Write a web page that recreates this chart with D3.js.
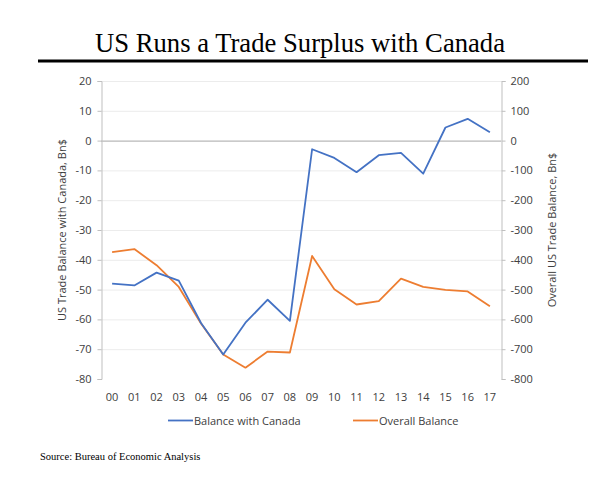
<!DOCTYPE html>
<html><head><meta charset="utf-8">
<script src="https://cdn.jsdelivr.net/npm/d3@7"></script>
<style>body{margin:0;background:#fff}svg{display:block}</style>
</head><body>
<svg id="c" width="606" height="481"></svg>
<script>
const years = ["00","01","02","03","04","05","06","07","08","09","10","11","12","13","14","15","16","17"];
const canada = [-48.0,-48.6,-44.3,-47.0,-61.2,-71.8,-61.1,-53.4,-60.5,-2.9,-5.8,-10.6,-4.9,-4.1,-11.1,4.4,7.3,2.8];
const overall = [-374,-364,-418,-491,-614,-718,-762,-708,-711,-387,-499,-550,-539,-463,-491,-501,-506,-556];
const leftTicks = [20,10,0,-10,-20,-30,-40,-50,-60,-70,-80];
const rightTicks = [200,100,0,-100,-200,-300,-400,-500,-600,-700,-800];

const svg = d3.select("#c");
const L = 101, R = 501, T = 81, B = 379;
const x = d3.scaleBand().domain(years).range([L, R]);
const yL = d3.scaleLinear().domain([-80, 20]).range([B, T]);
const yR = d3.scaleLinear().domain([-800, 200]).range([B, T]);
const lab = "'Open Sans', 'Noto Sans', sans-serif";
const fmt = d => String(d);

// title
svg.append("text").attr("x", 300).attr("y", 52).attr("text-anchor", "middle")
  .attr("font-family", "'Liberation Serif', 'Times New Roman', serif").attr("font-size", 27)
  .attr("textLength", 410).attr("lengthAdjust", "spacingAndGlyphs")
  .attr("fill", "#000").text("US Runs a Trade Surplus with Canada");
svg.append("rect").attr("x", 38).attr("y", 59.5).attr("width", 550).attr("height", 3).attr("fill", "#000");

// gridlines
svg.append("g").selectAll("line").data(leftTicks.filter(d => d !== 0 && d !== -80)).join("line")
  .attr("x1", L).attr("x2", R).attr("y1", d => yL(d) + 0.5).attr("y2", d => yL(d) + 0.5)
  .attr("stroke", "#ececec").attr("stroke-width", 1);
svg.append("line").attr("x1", L).attr("x2", R).attr("y1", yL(0) + 0.5).attr("y2", yL(0) + 0.5)
  .attr("stroke", "#a6a6a6").attr("stroke-width", 1);

// left axis
const axL = svg.append("g").attr("transform", `translate(${L + 0.5},0)`)
  .call(d3.axisLeft(yL).tickValues(leftTicks).tickSize(4).tickPadding(6).tickFormat(fmt));
axL.select(".domain").attr("stroke", "#bfbfbf");
axL.selectAll(".tick line").attr("stroke", "#bfbfbf");
axL.selectAll("text").attr("font-family", lab).attr("font-size", 11).attr("fill", "#404040");

// right axis
const axR = svg.append("g").attr("transform", `translate(${R + 0.5},0)`)
  .call(d3.axisRight(yR).tickValues(rightTicks).tickSize(4).tickPadding(5).tickFormat(fmt));
axR.select(".domain").attr("stroke", "#bfbfbf");
axR.selectAll(".tick line").attr("stroke", "#bfbfbf");
axR.selectAll("text").attr("font-family", lab).attr("font-size", 11).attr("fill", "#404040");

// x labels
svg.append("g").selectAll("text").data(years).join("text")
  .attr("x", d => x(d) + x.bandwidth() / 2).attr("y", 401).attr("text-anchor", "middle")
  .attr("font-family", lab).attr("font-size", 11).attr("fill", "#404040").text(d => d);

// axis titles
svg.append("text").attr("transform", `translate(66,${(T + B) / 2}) rotate(-90)`).attr("text-anchor", "middle")
  .attr("font-family", lab).attr("font-size", 11).attr("fill", "#404040").text("US Trade Balance with Canada, Bn$");
svg.append("text").attr("transform", `translate(556,${(T + B) / 2}) rotate(-90)`).attr("text-anchor", "middle")
  .attr("font-family", lab).attr("font-size", 11).attr("fill", "#404040").text("Overall US Trade Balance, Bn$");

// lines
const cx = d => x(d) + x.bandwidth() / 2;
svg.append("path").datum(overall).attr("fill", "none").attr("stroke", "#ED7D31").attr("stroke-width", 1.8)
  .attr("stroke-linejoin", "round")
  .attr("d", d3.line().x((d, i) => cx(years[i])).y(d => yR(d)));
svg.append("path").datum(canada).attr("fill", "none").attr("stroke", "#4472C4").attr("stroke-width", 1.8)
  .attr("stroke-linejoin", "round")
  .attr("d", d3.line().x((d, i) => cx(years[i])).y(d => yL(d)));

// legend
const leg = [{n: "Balance with Canada", c: "#4472C4", x: 168}, {n: "Overall Balance", c: "#ED7D31", x: 353}];
leg.forEach(l => {
  svg.append("line").attr("x1", l.x).attr("x2", l.x + 25).attr("y1", 420.5).attr("y2", 420.5)
    .attr("stroke", l.c).attr("stroke-width", 1.8);
  svg.append("text").attr("x", l.x + 26).attr("y", 424.5).attr("font-family", lab).attr("font-size", 11)
    .attr("fill", "#404040").text(l.n);
});

// source
svg.append("text").attr("x", 40).attr("y", 460).attr("font-family", "'Liberation Serif', 'Times New Roman', serif")
  .attr("font-size", 10.5).attr("fill", "#000").text("Source:  Bureau of Economic Analysis");
</script>
</body></html>
